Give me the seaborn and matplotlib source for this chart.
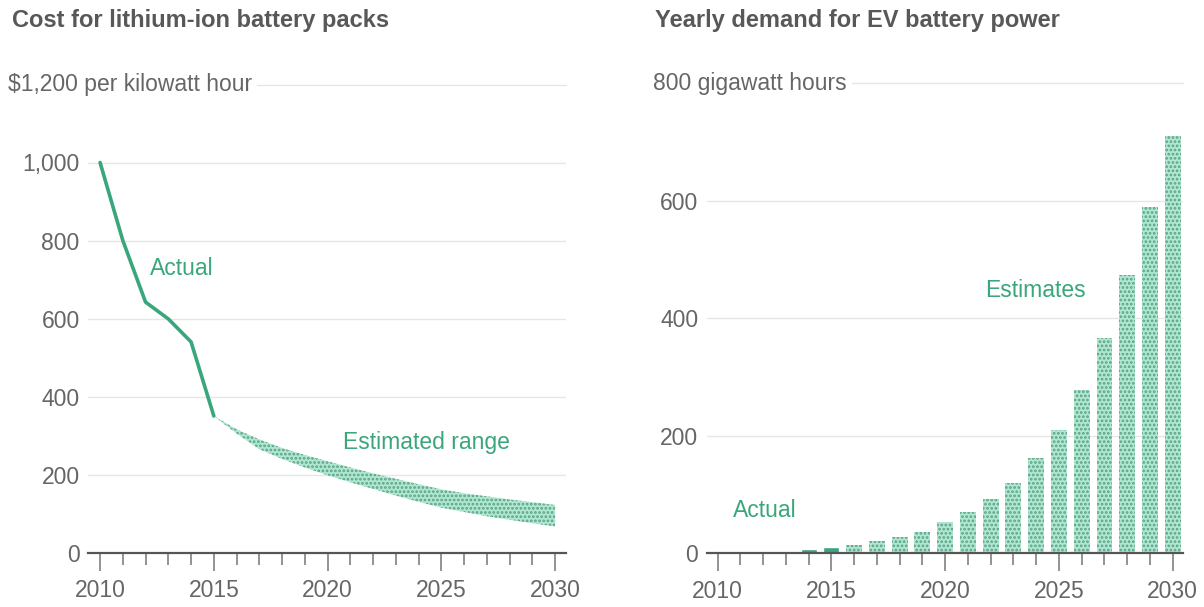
import matplotlib
matplotlib.use("Agg")
import matplotlib.pyplot as plt
import matplotlib.transforms as mtransforms
from matplotlib.ticker import MultipleLocator
import numpy as np
import pandas as pd
import seaborn as sns

# ---- data -------------------------------------------------------------
cost_years = [2010, 2011, 2012, 2013, 2014, 2015]
cost_actual = [1000, 800, 642, 599, 540, 350]

range_years = list(range(2015, 2031))
range_high = [350, 316, 290, 268, 250, 234, 218, 203, 189, 175, 162, 152, 144, 136, 129, 122]
range_low = [350, 305, 265, 240, 218, 198, 180, 163, 146, 130, 115, 104, 93, 84, 75, 67]

demand_years = list(range(2010, 2031))
demand_gwh = [0.4, 0.7, 1.5, 3.5, 7, 11,
              14, 21, 27, 37, 54, 70, 92, 119, 163, 210, 278, 367, 473, 590, 711]
demand_kind = ["Actual"] * 6 + ["Estimates"] * 15

cost_ticks = [0, 200, 400, 600, 800, 1000]
cost_ticklabels = ["0", "200", "400", "600", "800", "1,000"]
demand_ticks = [0, 200, 400, 600]
demand_ticklabels = ["0", "200", "400", "600"]
year_ticks = [2010, 2015, 2020, 2025, 2030]

# ---- style ------------------------------------------------------------
sns.set_style("white")
plt.rcParams["font.family"] = ["Liberation Sans", "DejaVu Sans"]
plt.rcParams["hatch.linewidth"] = 1.3

GREEN = "#3aa67b"
MINT = "#aee8d1"
DOT = "#5e9f86"
GRID = "#e6e6e6"
AXIS = "#555555"
TICKTXT = "#666666"
TITLE = "#585858"
FS = 16.5

W, H = 1204, 607
fig = plt.figure(figsize=(W / 100, H / 100), dpi=100)
fig.patch.set_facecolor("white")


def axes_px(x0, x1, y_bottom, y_top):
    return fig.add_axes([x0 / W, 1 - y_bottom / H, (x1 - x0) / W, (y_bottom - y_top) / H])


ax1 = axes_px(88, 566, 552.5, 84.5)
ax2 = axes_px(706.7, 1183, 553.3, 83.3)

# ---- left: pack cost --------------------------------------------------
cost_df = pd.DataFrame({"year": cost_years, "cost": cost_actual})
sns.lineplot(data=cost_df, x="year", y="cost", ax=ax1, color=GREEN, linewidth=2.6, zorder=3)
ax1.fill_between(range_years, range_low, range_high, facecolor=MINT, edgecolor=DOT,
                 hatch="....", linewidth=0, zorder=2)
ax1.set_ylim(0, 1200)
ax1.set_xlim(2009.47, 2030.48)
ax1.set_yticks(cost_ticks)
ax1.set_yticklabels(cost_ticklabels)
ax1.text(2012.2, 729, "Actual", color=GREEN, fontsize=FS, va="center", ha="left")
ax1.text(2020.68, 283, "Estimated range", color=GREEN, fontsize=FS, va="center", ha="left")

# ---- right: yearly demand ---------------------------------------------
demand_df = pd.DataFrame({"year": demand_years, "gwh": demand_gwh, "kind": demand_kind})
sns.barplot(data=demand_df, x="year", y="gwh", hue="kind",
            palette={"Actual": GREEN, "Estimates": MINT}, native_scale=True,
            width=0.7, dodge=False, errorbar=None, saturation=1, legend=False, ax=ax2)
for bar in ax2.patches:
    cx = bar.get_x() + bar.get_width() / 2
    if cx > 2015.5:
        bar.set_hatch("....")
        bar.set_edgecolor(DOT)
        bar.set_linewidth(0)
ax2.set_ylim(0, 800)
ax2.set_xlim(2009.52, 2030.45)
ax2.set_yticks(demand_ticks)
ax2.set_yticklabels(demand_ticklabels)
ax2.text(2021.75, 448, "Estimates", color=GREEN, fontsize=FS, va="center", ha="left")
ax2.text(2010.67, 73, "Actual", color=GREEN, fontsize=FS, va="center", ha="left")

# ---- shared axis styling ----------------------------------------------
for ax in (ax1, ax2):
    ax.set_xlabel("")
    ax.set_ylabel("")
    ax.set_axisbelow(True)
    ax.yaxis.grid(True, color=GRID, linewidth=1)
    ax.xaxis.grid(False)
    sns.despine(ax=ax, left=True)
    ax.spines["bottom"].set_color(AXIS)
    ax.spines["bottom"].set_linewidth(1.6)
    ax.spines["bottom"].set_zorder(4)
    ax.set_xticks(year_ticks)
    ax.set_xticklabels([str(y) for y in year_ticks])
    ax.xaxis.set_minor_locator(MultipleLocator(1))
    ax.tick_params(axis="x", which="both", bottom=True, top=False)
    ax.tick_params(axis="x", which="major", direction="out", length=13, width=1.3,
                   color="#8a8a8a", pad=6, labelsize=FS, labelcolor=TICKTXT)
    ax.tick_params(axis="x", which="minor", direction="out", length=8.5, width=1.3,
                   color="#8a8a8a")
    ax.tick_params(axis="y", which="both", left=False, length=0, pad=6,
                   labelsize=FS, labelcolor=TICKTXT)

# ---- titles and unit labels on the top gridline -----------------------
fig.text(12 / W, 1 - 20 / H, "Cost for lithium-ion battery packs", fontsize=17,
         fontweight="bold", color=TITLE, va="center", ha="left")
fig.text(655 / W, 1 - 20 / H, "Yearly demand for EV battery power", fontsize=17,
         fontweight="bold", color=TITLE, va="center", ha="left")

unit1 = fig.text(8 / W, 1200, "$1,200 per kilowatt hour", fontsize=FS, color=TICKTXT,
                 va="center", ha="left",
                 transform=mtransforms.blended_transform_factory(fig.transFigure, ax1.transData))
unit2 = fig.text(653 / W, 800, "800 gigawatt hours", fontsize=FS, color=TICKTXT,
                 va="center", ha="left",
                 transform=mtransforms.blended_transform_factory(fig.transFigure, ax2.transData))

fig.canvas.draw()
renderer = fig.canvas.get_renderer()
for ax, label in ((ax1, unit1), (ax2, unit2)):
    x_end = label.get_window_extent(renderer).x1 + 5
    x_start_ax = ax.transAxes.inverted().transform((x_end, 0))[0]
    ax.plot([x_start_ax, 1], [1, 1], transform=ax.transAxes, color=GRID,
            linewidth=1, clip_on=False, zorder=0)

fig.savefig("out.png", dpi=100, facecolor="white")
